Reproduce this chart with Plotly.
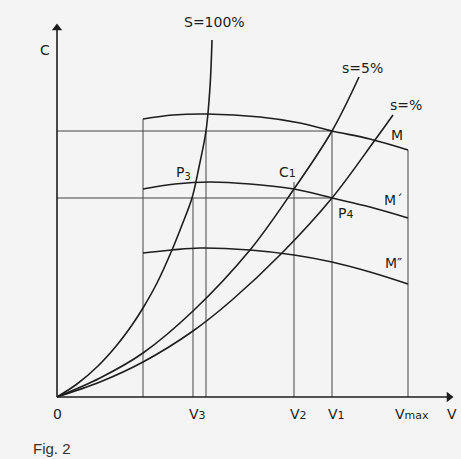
import plotly.graph_objects as go

# ---- data (units: V along x, C along y) ----
M_x = [8.6, 11.6, 15.0, 20.3, 24.3, 27.5, 31.3, 35.1]
M_y = [27.8, 28.2, 28.3, 28.0, 27.4, 26.6, 25.8, 24.7]

M1_x = [8.6, 11.8, 15.3, 19.3, 23.7, 27.5, 31.3, 35.1]
M1_y = [20.8, 21.3, 21.5, 21.3, 20.8, 19.9, 19.0, 17.9]

M2_x = [8.6, 11.5, 14.3, 19.3, 23.7, 27.5, 31.3, 35.1]
M2_y = [14.4, 14.7, 14.9, 14.7, 14.2, 13.5, 12.5, 11.3]

S100_x = [0, 2.0, 4.1, 6.0, 7.5, 8.6, 10.0, 11.5, 12.5, 13.5, 14.2, 14.9, 15.3, 15.5]
S100_y = [0, 1.3, 3.1, 5.2, 7.2, 8.9, 11.4, 14.7, 17.2, 19.9, 23.0, 26.6, 31.0, 35.7]

S5_x = [0, 4.3, 8.6, 13.6, 19.3, 23.7, 27.5, 30.2]
S5_y = [0, 1.9, 4.4, 8.6, 14.7, 20.8, 26.6, 32.0]

Sp_x = [0, 4.3, 8.6, 13.6, 17.5, 22.5, 27.5, 31.8, 33.6]
Sp_y = [0, 1.5, 3.5, 6.6, 9.7, 14.4, 19.9, 25.7, 28.2]

# vertical guide lines: position and top
vline_x = [8.6, 13.6, 14.9, 23.7, 27.5, 35.1]
vline_top = [27.8, 19.9, 26.6, 21.5, 26.6, 24.7]

# horizontal guide lines: level and right end
hline_y = [26.6, 19.9]
hline_end = [27.5, 27.5]

# axis extents
V_axis_end = 39.8
C_axis_end = 37.5

# tick labels on V axis
tick_x = [0, 13.6, 23.7, 27.5, 35.1]
tick_labels = ["0", "V<span style='font-size:11px'>3</span>", "V<span style='font-size:11px'>2</span>",
               "V<span style='font-size:11px'>1</span>", "V<span style='font-size:11px'>max</span>"]

INK = "#1e1e1e"
GRID = "#444444"
FONT = "DejaVu Sans"

fig = go.Figure()

for xv, top in zip(vline_x, vline_top):
    fig.add_trace(go.Scatter(x=[xv, xv], y=[0, top], mode="lines",
                             line=dict(color=GRID, width=1), hoverinfo="skip", showlegend=False))
for yv, end in zip(hline_y, hline_end):
    fig.add_trace(go.Scatter(x=[0, end], y=[yv, yv], mode="lines",
                             line=dict(color=GRID, width=1), hoverinfo="skip", showlegend=False))

for xs, ys in [(M_x, M_y), (M1_x, M1_y), (M2_x, M2_y), (S100_x, S100_y), (S5_x, S5_y), (Sp_x, Sp_y)]:
    fig.add_trace(go.Scatter(x=xs, y=ys, mode="lines", line=dict(color=INK, width=1.6, shape="spline", smoothing=1.0),
                             hoverinfo="skip", showlegend=False))

# axes
fig.add_trace(go.Scatter(x=[0, 0], y=[0, C_axis_end - 0.6], mode="lines", line=dict(color=INK, width=1.6),
                         hoverinfo="skip", showlegend=False))
fig.add_trace(go.Scatter(x=[0, V_axis_end - 0.6], y=[0, 0], mode="lines", line=dict(color=INK, width=1.6),
                         hoverinfo="skip", showlegend=False))
fig.add_trace(go.Scatter(x=[0], y=[C_axis_end - 0.6], mode="markers",
                         marker=dict(symbol="triangle-up", size=9, color=INK, line=dict(width=0)),
                         hoverinfo="skip", showlegend=False))
fig.add_trace(go.Scatter(x=[V_axis_end - 0.6], y=[0], mode="markers",
                         marker=dict(symbol="triangle-right", size=9, color=INK, line=dict(width=0)),
                         hoverinfo="skip", showlegend=False))

ann = []

def lab(x, y, t, size=14, xanchor="center"):
    ann.append(dict(x=x, y=y, xref="x", yref="y", text=t, showarrow=False, xanchor=xanchor, yanchor="middle",
                    font=dict(family=FONT, size=size, color=INK)))

for xv, t in zip(tick_x, tick_labels):
    lab(xv + (0.4 if t != "0" else 0), -1.7, t)
lab(39.5, -1.7, "V")
lab(-1.2, 34.7, "C")
lab(15.7, 37.5, "S=100%")
lab(30.5, 32.9, "s=5%")
lab(34.9, 29.2, "s=%")
lab(34.0, 26.2, "M")
lab(33.6, 19.7, "M´")
lab(33.6, 13.4, "M″")
lab(23.0, 22.5, "C<span style='font-size:11px'>1</span>")
lab(28.8, 18.4, "P<span style='font-size:11px'>4</span>")
lab(12.6, 22.4, "P<sub>3</sub>")
ann.append(dict(x=-2.6, y=-5.1, xref="x", yref="y", text="Fig. 2", showarrow=False, xanchor="left",
                yanchor="middle", font=dict(family="Liberation Sans", size=15, color="#333333")))

fig.update_layout(
    width=461, height=459, margin=dict(l=0, r=0, t=0, b=0),
    paper_bgcolor="#f4f4f4", plot_bgcolor="#f4f4f4",
    xaxis=dict(range=[-5.7, 40.4], visible=False, fixedrange=True),
    yaxis=dict(range=[-6.2, 39.7], visible=False, fixedrange=True),
    annotations=ann, showlegend=False,
)

fig.write_html("out.html", config={"displayModeBar": False},
               post_script="document.body.style.margin='0';document.body.style.background='#f4f4f4';")
